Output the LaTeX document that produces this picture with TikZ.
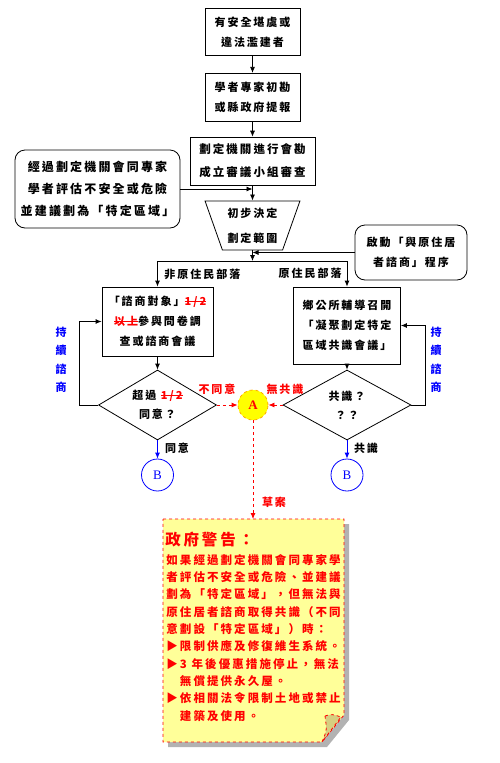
\documentclass[tikz,border=0pt]{standalone}
\usepackage{fontspec}
\usepackage{xcolor}
\usepackage{tikz}
\usetikzlibrary{arrows.meta,positioning,shapes.geometric,calc}
\setmainfont{Noto Sans CJK TC}[LetterSpace=18]
\newfontfamily\serifAB{Liberation Serif}
\definecolor{warnred}{RGB}{255,0,0}
\definecolor{loopblue}{RGB}{0,0,255}
\definecolor{noteyellow}{RGB}{255,255,153}
\definecolor{flapkhaki}{RGB}{214,206,128}
\definecolor{shadowgray}{RGB}{178,178,178}
\definecolor{hubyellow}{RGB}{255,255,0}
\definecolor{huborange}{RGB}{255,170,0}
\newcommand{\cutout}[1]{\textcolor{warnred}{\setbox0\hbox{#1}\rlap{\rule[0.32em]{\wd0}{0.7pt}}\box0}}

\begin{document}
\begin{tikzpicture}[x=1pt, y=1pt, >={Latex[length=6pt,width=5pt]}, line width=0.8pt,
 every node/.style={font=\bfseries\fontsize{11}{20}\selectfont, align=center, inner sep=0pt},
 box/.style={draw, fill=white},
 roundbox/.style={draw, fill=white, rounded corners=10pt},
 funnel/.style={draw, trapezium, shape border rotate=180, trapezium angle=68, trapezium stretches=true, minimum width=95pt, minimum height=49pt},
 choice/.style={draw, diamond, aspect=1.8},
 hub/.style={circle, draw=huborange, dashed, fill=hubyellow, minimum size=30pt, text=warnred, font=\serifAB\bfseries\fontsize{13}{13}\selectfont},
 exit/.style={circle, draw=loopblue, minimum size=32pt, text=loopblue, font=\serifAB\fontsize{13}{13}\selectfont},
 redtag/.style={text=warnred},
 looptag/.style={text=loopblue, font=\bfseries\fontsize{11}{18.5}\selectfont}]
\useasboundingbox (0,0) rectangle (500,-763);
% main column
\node[box, minimum width=95pt, minimum height=47pt] (report) at (252.5,-32) {有安全堪虞或\\違法濫建者};
\node[box, minimum width=95pt, minimum height=48pt, below=17pt of report] (survey) {學者專家初勘\\或縣政府提報};
\node[box, minimum width=125pt, minimum height=48pt, below=15pt of survey, font=\bfseries\fontsize{11.5}{23}\selectfont] (review) {劃定機關進行會勘\\成立審議小組審查};
\node[funnel, below=15pt of review, font=\bfseries\fontsize{11}{25}\selectfont] (scope) {初步決定\\劃定範圍};
\node[roundbox, minimum width=165pt, minimum height=78pt, font=\bfseries\fontsize{12}{22}\selectfont] (expert) at (97.5,-189) {經過劃定機關會同專家\\學者評估不安全或危險\\並建議劃為「特定區域」};
\node[roundbox, minimum width=112pt, minimum height=55pt] (consult) at (411,-252.5) {啟動「與原住居\\者諮商」程序};
\coordinate (split) at (252.5,-261);
% two branches
\node[box, minimum width=111pt, minimum height=69pt] (poll) at (157.5,-321.5) {「諮商對象」\cutout{1/2}\\\cutout{以上}參與問卷調\\查或諮商會議};
\node[box, minimum width=107pt, minimum height=77pt] (meeting) at (347,-325.5) {鄉公所輔導召開\\「凝聚劃定特定\\區域共識會議」};
\node[choice, minimum width=118pt, minimum height=70pt, font=\bfseries\fontsize{11}{19}\selectfont] (agree) at (157.5,-405) {超過 \cutout{1/2}\\同意？};
\node[choice, minimum width=128pt, minimum height=70pt, font=\bfseries\fontsize{11}{19}\selectfont] (accord) at (347,-405) {共識？\\？？};
\node[hub] (A) at (253,-405) {A};
\node[exit] (B1) at (157.5,-475) {B};
\node[exit] (B2) at (347,-475) {B};
\coordinate (notetop) at (253,-519);
% labels
\node[anchor=west] (plain) at (164,-274) {非原住民部落};
\node[anchor=east] (native) at (342,-273) {原住民部落};
\node[looptag] (loopL) at (61,-360) {持\\續\\諮\\商};
\node[looptag] (loopR) at (436,-360) {持\\續\\諮\\商};
\node[redtag] (refuse) at (217,-389) {不同意};
\node[redtag] (noaccord) at (285,-389) {無共識};
\node (yes) at (177,-448) {同意};
\node (yes2) at (366,-448) {共識};
\node[redtag] (draft) at (274,-502) {草案};
% connectors
\draw[->] (report) -- (survey);
\draw[->] (survey) -- (review);
\draw[->] (review) -- (scope);
\draw[->] (expert.east) -- (expert.east -| review.south);
\draw[->] (consult.west) -- (consult.west -| scope.south);
\draw[->] (scope.south) -- (split);
\draw[->] (split) -| (poll.north);
\draw[->] (split) -| (meeting.north);
\draw[->] (poll) -- (agree);
\draw[->] (meeting) -- (accord);
\draw[->] (agree.west) -- ++(-19,0) |- (poll.west);
\draw[->] (accord.east) -- ++(14,0) |- (meeting.east);
\draw[->, dashed, warnred] (agree.east) -- (A);
\draw[->, dashed, warnred] (accord.west) -- (A);
\draw[->, loopblue] (agree.south) -- (B1);
\draw[->, loopblue] (accord.south) -- (B2);
\draw[->, dashed, warnred] (A) -- (notetop);
% warning note
\fill[shadowgray] (168,-524) -- (349,-524) -- (349,-720) -- (327,-747) -- (168,-747) -- cycle;
\filldraw[fill=noteyellow, draw=warnred, dashed] (163,-519) -- (344,-519) -- (344,-715) -- (322,-742) -- (163,-742) -- cycle;
\filldraw[fill=flapkhaki, draw=warnred, dashed] (325,-716) .. controls (332,-714) .. (341,-717) -- (322,-742) .. controls (327,-730) .. (325,-716) -- cycle;
\node[anchor=west, redtag, font=\bfseries\fontsize{15.5}{18}\selectfont] (warntitle) at (165,-540) {政府警告：};
\node[anchor=north west, align=left, redtag, font=\bfseries\fontsize{11.5}{17.3}\selectfont] (warntext) at (166,-554) {如果經過劃定機關會同專家學\\者評估不安全或危險、並建議\\劃為「特定區域」，但無法與\\原住居者諮商取得共識（不同\\意劃設「特定區域」）時：\\▶限制供應及修復維生系統。\\▶3 年後優惠措施停止，無法\\　無償提供永久屋。\\▶依相關法令限制土地或禁止\\　建築及使用。};
\end{tikzpicture}
\end{document}
